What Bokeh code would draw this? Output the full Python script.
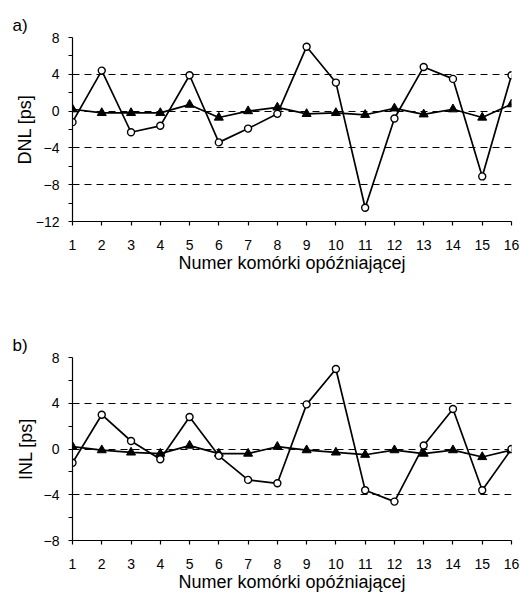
from bokeh.plotting import figure
from bokeh.layouts import column
from bokeh.models import FixedTicker, ColumnDataSource
from bokeh.embed import file_html
from bokeh.resources import INLINE

cells = list(range(1, 17))

dnl_circle = [-1.2, 4.4, -2.3, -1.6, 3.9, -3.4, -1.9, -0.3, 7.0, 3.1, -10.5, -0.8, 4.8, 3.5, -7.1, 3.9]
dnl_triangle = [0.2, -0.2, -0.2, -0.2, 0.7, -0.7, 0.0, 0.4, -0.3, -0.2, -0.4, 0.3, -0.35, 0.2, -0.7, 0.75]

inl_circle = [-1.2, 3.0, 0.7, -0.9, 2.8, -0.6, -2.7, -3.0, 3.9, 7.0, -3.6, -4.6, 0.3, 3.5, -3.6, 0.0]
inl_triangle = [0.2, -0.1, -0.3, -0.4, 0.3, -0.4, -0.4, 0.2, -0.1, -0.3, -0.5, -0.1, -0.4, -0.1, -0.7, -0.1]

x_label = "Numer komórki opóźniającej"
FONT = "Liberation Sans"


def make_panel(tag, ylabel, y_range, major, minor, grid, circ, tri,
               height, border_top, border_bottom, ylab_standoff):
    p = figure(width=520, height=height, x_range=(1, 16), y_range=y_range,
               output_backend="svg", toolbar_location=None,
               min_border_left=72, min_border_right=9, min_border_top=border_top,
               min_border_bottom=border_bottom)
    p.outline_line_color = None
    p.background_fill_color = "white"
    p.border_fill_color = "white"

    p.title.text = tag
    p.title.align = "left"
    p.title.offset = -60
    p.title.standoff = 6
    p.title.text_font = FONT
    p.title.text_font_size = "17px"
    p.title.text_font_style = "normal"
    p.title.text_color = "black"

    p.xgrid.visible = False
    p.ygrid.ticker = FixedTicker(ticks=grid)
    p.ygrid.grid_line_color = "black"
    p.ygrid.grid_line_dash = "7 5"
    p.ygrid.grid_line_width = 1

    xa = p.xaxis[0]
    xa.ticker = FixedTicker(ticks=cells)
    xa.axis_label = x_label
    xa.major_tick_out = 4
    xa.major_tick_in = 0
    xa.minor_tick_out = 0
    xa.major_label_standoff = 14
    xa.axis_label_standoff = 0
    xa.axis_line_width = 1.2
    xa.major_tick_line_width = 1.2

    ya = p.yaxis[0]
    ya.ticker = FixedTicker(ticks=major, minor_ticks=minor)
    ya.axis_label = ylabel
    ya.major_tick_out = 4
    ya.major_tick_in = 0
    ya.minor_tick_out = 4
    ya.minor_tick_in = 0
    ya.major_label_standoff = 9
    ya.axis_label_standoff = ylab_standoff
    ya.axis_line_width = 1.2
    ya.major_tick_line_width = 1.2
    ya.minor_tick_line_width = 1.2

    for ax in (xa, ya):
        ax.axis_line_color = "black"
        ax.major_tick_line_color = "black"
        ax.minor_tick_line_color = "black"
        ax.major_label_text_font = FONT
        ax.major_label_text_font_size = "14px"
        ax.major_label_text_color = "black"
        ax.axis_label_text_font = FONT
        ax.axis_label_text_font_size = "18px"
        ax.axis_label_text_font_style = "normal"
        ax.axis_label_text_color = "black"

    src = ColumnDataSource(dict(x=cells, c=circ, t=tri))
    p.line("x", "c", source=src, line_color="black", line_width=1.7)
    p.line("x", "t", source=src, line_color="black", line_width=1.7)
    p.scatter("x", "t", source=src, marker="triangle", size=9,
              fill_color="black", line_color="black", line_width=1)
    p.scatter("x", "c", source=src, marker="circle", size=7,
              fill_color="white", line_color="black", line_width=1.4)
    return p


p1 = make_panel("a)", "DNL [ps]", (-12, 8), [-12, -8, -4, 0, 4, 8], [-10, -6, -2, 2, 6],
                [-8, -4, 0, 4, 8], dnl_circle, dnl_triangle, 328, 37, 107, -2)
p2 = make_panel("b)", "INL [ps]", (-8, 8), [-8, -4, 0, 4, 8], [-6, -2, 2, 6],
                [-4, 0, 4, 8], inl_circle, inl_triangle, 267, 29, 55, 5)

layout = column(p1, p2, spacing=0)
open("out.html", "w").write(file_html(layout, INLINE))
